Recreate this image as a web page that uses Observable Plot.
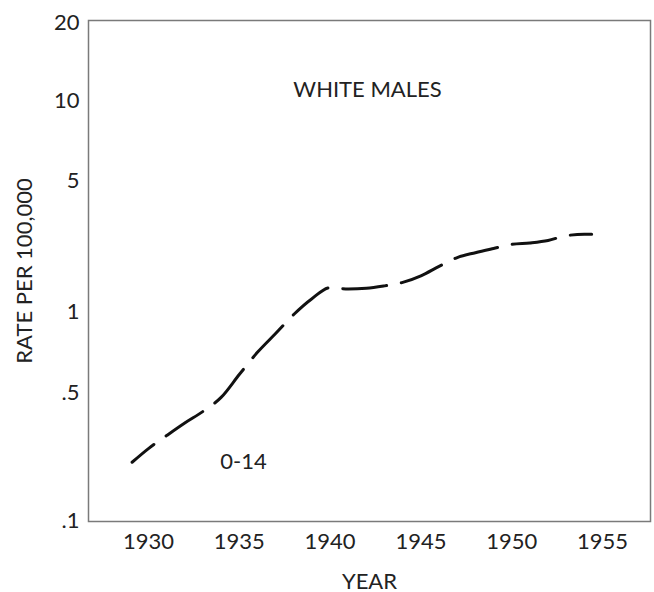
<!DOCTYPE html>
<html>
<head>
<meta charset="utf-8">
<script src="https://cdn.jsdelivr.net/npm/d3@7"></script>
<script src="https://cdn.jsdelivr.net/npm/@observablehq/plot@0.6"></script>
<style>
  html, body { margin: 0; padding: 0; background: #fff; }
  #chart svg { display: block; }
</style>
</head>
<body>
<div id="chart"></div>
<script>
// Data (White males, age 0-14)
const years = [1929.1, 1930, 1931, 1932, 1933, 1934, 1935, 1936, 1937, 1938, 1939, 1940, 1941, 1942, 1943, 1944, 1945, 1946, 1947, 1948, 1949, 1950, 1951, 1952, 1953, 1954, 1954.4];
const rates = [0.208, 0.247, 0.291, 0.341, 0.394, 0.47, 0.583, 0.705, 0.828, 0.975, 1.17, 1.34, 1.32, 1.33, 1.37, 1.43, 1.55, 1.74, 1.94, 2.06, 2.17, 2.28, 2.32, 2.39, 2.54, 2.58, 2.58];

const yTicks = [0.1, 0.5, 1, 5, 10, 20];
const xTicks = [1930, 1935, 1940, 1945, 1950, 1955];

const labelTexts = ["WHITE MALES", "0-14"];
const labelYears = [1942.06, 1935.23];
const labelRates = [10.98, 0.21];

const series = years.map((y, i) => ({year: y, rate: rates[i]}));
const labels = labelTexts.map((t, i) => ({text: t, year: labelYears[i], rate: labelRates[i]}));

const chart = Plot.plot({
  width: 654,
  height: 592,
  marginLeft: 88,
  marginRight: 4,
  marginTop: 20,
  marginBottom: 71,
  style: {fontFamily: "Lato, sans-serif", fontSize: "22px", color: "#222", background: "#fff"},
  x: {
    domain: [1926.7, 1957.64],
    ticks: xTicks,
    tickSize: 0,
    tickPadding: 12,
    tickFormat: d => String(d),
    label: "YEAR",
    labelArrow: "none",
    labelAnchor: "center",
    labelOffset: 67
  },
  y: {
    type: "log",
    domain: yTicks,
    range: [520, 392, 311, 180, 100, 22],
    ticks: yTicks,
    tickSize: 0,
    tickPadding: 9,
    tickFormat: d => d < 1 ? String(d).replace(/^0/, "") : String(d),
    label: "RATE PER 100,000",
    labelArrow: "none",
    labelAnchor: "center",
    labelOffset: 72
  },
  marks: [
    Plot.frame({stroke: "#7a7a7a", strokeWidth: 1.5}),
    Plot.line(series, {
      x: "year", y: "rate",
      curve: "monotone-x",
      stroke: "#111",
      strokeWidth: 3,
      strokeDasharray: "44,15",
      strokeDashoffset: 16
    }),
    Plot.text(labels, {
      x: "year", y: "rate", text: "text",
      fontSize: 22, fill: "#222", textAnchor: "middle"
    })
  ]
});

document.getElementById("chart").appendChild(chart);
</script>
</body>
</html>
